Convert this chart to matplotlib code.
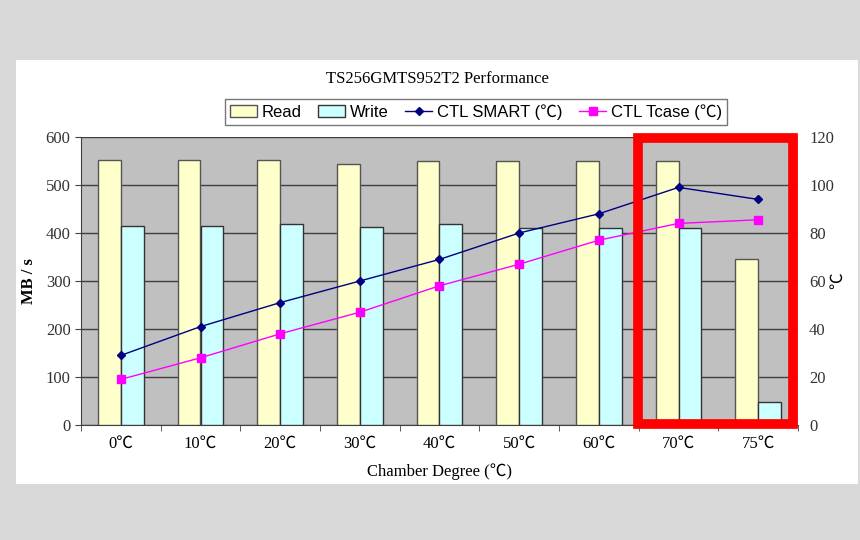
import matplotlib.pyplot as plt
import matplotlib.patches as patches
import numpy as np

# 자료
labels = ['0℃', '10℃', '20℃', '30℃', '40℃', '50℃', '60℃', '70℃', '75℃']
read = [552, 552, 552, 544, 550, 550, 550, 550, 345]
write = [415, 415, 419, 413, 419, 411, 411, 411, 48]
smart = [29, 41, 51, 60, 69, 80, 88, 99, 94]
tcase = [19, 28, 38, 47, 58, 67, 77, 84, 85.5]

serif = ['Liberation Serif', 'Noto Sans CJK SC', 'DejaVu Sans']
sans = ['Liberation Sans', 'Noto Sans CJK SC', 'DejaVu Sans']

fig = plt.figure(figsize=(8.6, 5.4), dpi=100)
fig.patch.set_facecolor('#d9d9d9')

# 흰 패널
fig.patches.append(patches.Rectangle((16 / 860, 1 - 484 / 540), 842 / 860, 424 / 540,
                                     transform=fig.transFigure, facecolor='white',
                                     edgecolor='none', zorder=-10))

ax = fig.add_axes([81 / 860, 1 - 425 / 540, 717 / 860, 288 / 540])
ax.set_facecolor('#c0c0c0')
x = np.arange(len(labels))
w = 0.285

ax.bar(x - w / 2, read, w, color='#ffffcc', edgecolor='#555555', linewidth=1, label='Read', zorder=3)
ax.bar(x + w / 2, write, w, color='#ccffff', edgecolor='#333333', linewidth=1, label='Write', zorder=3)
ax.set_ylim(0, 600)
ax.set_xlim(-0.5, len(labels) - 0.5)
ax.set_yticks(range(0, 601, 100))
ax.yaxis.grid(True, color='#404040', linewidth=1, zorder=1)
ax.set_axisbelow(True)
ax.set_xticks(x)
ax.set_xticklabels(labels, family=serif, fontsize=12)
ax.set_xticks(np.arange(-0.5, len(labels), 1), minor=True)
ax.tick_params(axis='x', which='major', length=0, pad=8)
ax.tick_params(axis='x', which='minor', length=4, color='#404040')
ax.tick_params(axis='y', length=4, color='#404040', labelsize=12, labelcolor='#333333')
for t in ax.get_yticklabels():
    t.set_family(serif)
for s in ['top', 'right']:
    ax.spines[s].set_visible(False)
for s in ['left', 'bottom']:
    ax.spines[s].set_color('#404040')
ax.set_ylabel('MB / s', family=serif, fontsize=12, fontweight='bold', labelpad=6)
ax.set_xlabel('Chamber Degree (℃)', family=serif, fontsize=12, labelpad=8)

ax2 = ax.twinx()
ax2.plot(x, smart, color='#000080', marker='D', markersize=4, linewidth=1, label='CTL SMART (℃)', zorder=4)
ax2.plot(x, tcase, color='#ff00ff', marker='s', markersize=6, linewidth=1, label='CTL Tcase (℃)', zorder=4)
ax2.set_ylim(0, 120)
ax2.set_yticks(range(0, 121, 20))
ax2.tick_params(axis='y', length=0, pad=8, labelsize=12, labelcolor='#333333')
for t in ax2.get_yticklabels():
    t.set_family(serif)
for s in ax2.spines.values():
    s.set_visible(False)
ax2.set_ylabel('℃', family=serif, fontsize=12, rotation=90, labelpad=-3)

fig.text(437 / 860, 1 - 79 / 540, 'TS256GMTS952T2 Performance', family=serif,
         fontsize=12, ha='center', va='center')

h1, l1 = ax.get_legend_handles_labels()
h2, l2 = ax2.get_legend_handles_labels()
leg = fig.legend(h1 + h2, l1 + l2, loc='center', bbox_to_anchor=(476 / 860, 1 - 112 / 540),
                 ncol=4, frameon=True, fancybox=False, edgecolor='#555555',
                 prop={'family': sans, 'size': 12}, handlelength=1.6,
                 handletextpad=0.3, columnspacing=1.0, borderpad=0.3)

# 빨간 강조 상자
fig.patches.append(patches.Rectangle((638 / 860, 1 - 424 / 540), 155 / 860, 286 / 540,
                                     transform=fig.transFigure, fill=False,
                                     edgecolor='#ff0000', linewidth=7, zorder=10))

fig.savefig('out.png', dpi=100, facecolor=fig.get_facecolor())
